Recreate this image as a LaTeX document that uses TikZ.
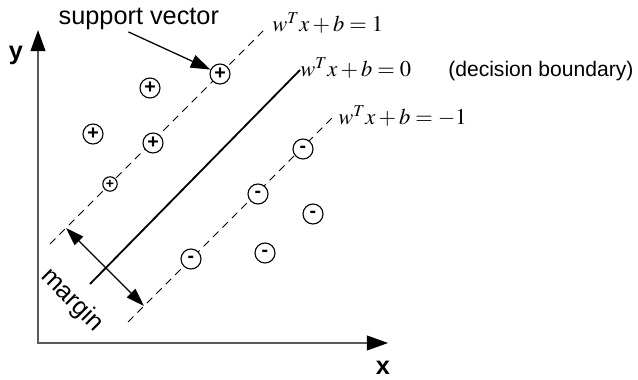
\documentclass[tikz,border=0pt]{standalone}
\usepackage{mathptmx}
\usepackage[no-math]{fontspec}
\setmainfont{Liberation Serif}
\setsansfont{Liberation Sans}
\usetikzlibrary{arrows.meta,positioning}

\begin{document}
\begin{tikzpicture}[
  sample/.style={circle, draw, line width=0.8pt, fill=white, minimum size=0.5cm, inner sep=0pt, font=\fontsize{14}{14}\sffamily\bfseries},
  small/.style={sample, minimum size=0.36cm, font=\fontsize{10}{10}\sffamily\bfseries},
  margline/.style={line width=0.6pt, dash pattern=on 5.5pt off 4pt},
  axis/.style={black!65, line width=1.2pt},
  eqn/.style={anchor=base west, inner sep=0pt, font=\fontsize{16}{16}\selectfont},
  lbl/.style={font=\fontsize{18}{18}\sffamily}
]
\useasboundingbox (0,0) rectangle (15.95,9.5);
% axes
\coordinate (O) at (0.95,0.925);
\coordinate (xend) at (9.7,0.925);
\coordinate (yend) at (0.95,8.75);
\draw[axis, {Triangle[length=15pt,width=10.5pt,color=black]}-{Triangle[length=15pt,width=10.5pt,color=black]}] (xend) -- (O) -- (yend);
\node[lbl, font=\fontsize{18}{18}\sffamily\bfseries] (ylab) at (0.4,8.125) {y};
\node[lbl, font=\fontsize{18}{18}\sffamily\bfseries] (xlab) at (9.575,0.3) {x};
% hyperplanes
\coordinate (u1) at (1.25,3.4);
\coordinate (u2) at (6.6,8.75);
\coordinate (c1) at (2.25,2.4);
\coordinate (c2) at (7.5,7.75);
\coordinate (l1) at (3.2,1.45);
\coordinate (l2) at (8.325,6.575);
\draw[margline] (u1) -- (u2);
\draw[line width=1.3pt] (c1) -- (c2);
\draw[margline] (l1) -- (l2);
\node[eqn] (eqpos) at (6.8,8.7) {$w^T x + b = 1$};
\node[eqn] (eqzero) at (7.5,7.575) {$w^T x + b = 0$};
\node[eqn] (eqneg) at (8.45,6.375) {$w^T x + b = -1$};
\node[anchor=base west, inner sep=0pt, font=\fontsize{15}{15}\sffamily] (dec) at (11.2,7.575) {(decision boundary)};
% positive samples
\node[sample] (p1) at (5.5,7.65) {+};
\node[sample] (p2) at (3.75,7.3) {+};
\node[sample] (p3) at (2.325,6.15) {+};
\node[sample] (p4) at (3.825,5.925) {+};
\node[small] (p5) at (2.75,4.9) {+};
% negative samples
\node[sample] (m1) at (7.575,5.775) {-};
\node[sample] (m2) at (6.45,4.65) {-};
\node[sample] (m3) at (7.825,4.15) {-};
\node[sample] (m4) at (6.625,3.175) {-};
\node[sample] (m5) at (4.775,3.025) {-};
% support vector pointer
\node[lbl, anchor=base west, inner sep=1pt] (sv) at (1.425,8.875) {support vector};
\draw[line width=0.9pt, -{Triangle[length=14pt,width=9.5pt]}] ([xshift=-0.26cm]sv.south) -- (p1);
% margin
\coordinate (ma) at (1.65,3.8);
\coordinate (mb) at (3.6,1.85);
\draw[line width=0.9pt, {Triangle[length=13pt,width=8.5pt]}-{Triangle[length=13pt,width=8.5pt]}] (ma) -- (mb);
\node[lbl, rotate=-45] (marg) at (1.8,2.0) {margin};
\end{tikzpicture}
\end{document}
